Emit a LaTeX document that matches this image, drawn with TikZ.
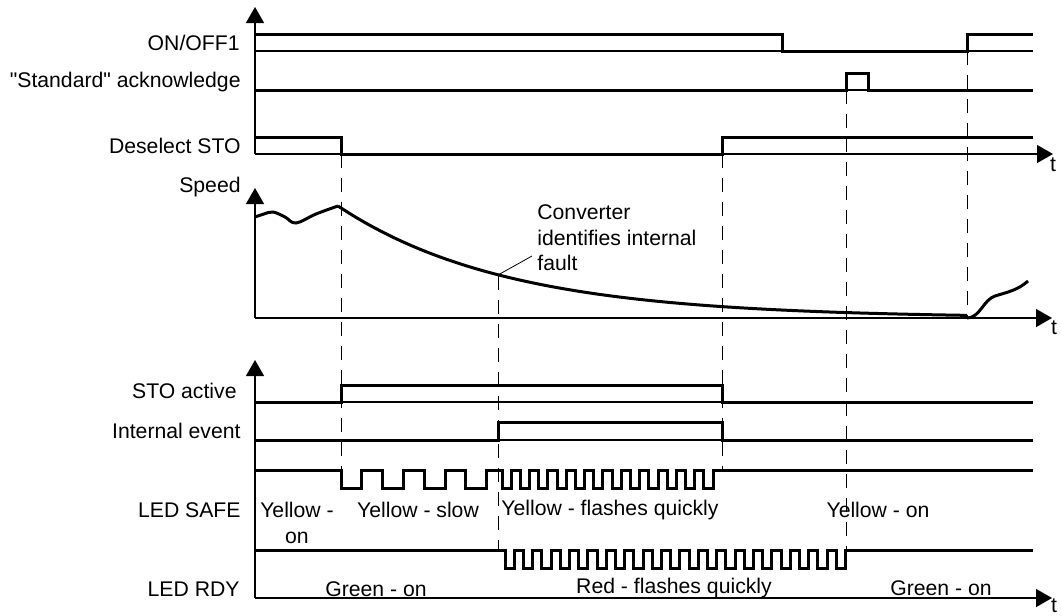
\documentclass[tikz,border=0pt]{standalone}
\usepackage{fontspec}
\setmainfont{Liberation Sans}
\usetikzlibrary{arrows.meta}

\begin{document}
\begin{tikzpicture}[>={Triangle[length=8pt,width=9pt]},x=0.5pt,y=-0.5pt,
    font=\fontsize{10.6}{12.7}\selectfont,
    sig/.style={line width=1.5pt},
    base/.style={line width=0.6pt},
    axis/.style={line width=0.7pt,->},
    guide/.style={line width=0.5pt,dash pattern=on 7pt off 5pt},
    lbl/.style={anchor=east,inner sep=0pt}]
    \useasboundingbox (0,0) rectangle (1061,616);

    % time marks
    \draw [guide] (341,154) -- (341,470);
    \draw [guide] (498,276) -- (498,550);
    \draw [guide] (722,154) -- (722,470);
    \draw [guide] (846,90) -- (846,550);
    \draw [guide] (967,51) -- (967,318);

    % top group
    \draw [axis] (255,154) -- (255,7);
    \draw [axis] (255,154) -- (1053,154);
    \node [inner sep=0pt] (t1) at (1053,165) {t};
    \node [lbl] (onoff) at (240,43) {ON/OFF1};
    \node [lbl] (ack) at (241,82) {\textquotedbl Standard\textquotedbl\ acknowledge};
    \node [lbl] (desto) at (241,146) {Deselect STO};
    \draw [base] (255,51) -- (1033,51);
    \draw [sig] (255,34) -- (782,34) -- (782,51) -- (967,51) -- (967,34) -- (1033,34);
    \draw [base] (255,90) -- (1033,90);
    \draw [sig] (255,90) -- (846,90) -- (846,73) -- (868,73) -- (868,90) -- (1033,90);
    \draw [sig] (255,137) -- (341,137) -- (341,154) -- (722,154) -- (722,137) -- (1033,137);

    % speed
    \draw [axis] (255,318) -- (255,188);
    \draw [axis] (255,318) -- (1052,318);
    \node [inner sep=0pt] (t2) at (1054,328) {t};
    \node [lbl] (speed) at (241,187) {Speed};
    \draw [sig] plot [smooth,tension=0.6] coordinates
        {(255,217) (264,214) (273,212) (285,217) (296,223) (316,214) (338,206)};
    \draw [sig,domain=338:967,samples=70] plot (\x,{318-112*exp(-(\x-338)/168)});
    \draw [sig] (967,318) .. controls (980,318) and (983,300) .. (995,296)
        .. controls (1008,292) and (1018,290) .. (1028,281);
    \coordinate (flt) at (498,275);
    \coordinate (lead) at (532,256);
    \node [align=left,anchor=west,inner sep=0pt] (fault) at (537,238)
        {Converter\\identifies internal\\fault};
    \draw [line width=0.4pt] (flt) -- (lead);

    % bottom group
    \draw [axis] (255,598) -- (255,360);
    \draw [axis] (255,598) -- (1052,598);
    \node [inner sep=0pt] (t3) at (1054,606) {t};
    \node [lbl] (stoact) at (237,391) {STO active};
    \node [lbl] (intev) at (241,431) {Internal event};
    \node [lbl] (safe) at (241,510) {LED SAFE};
    \node [lbl] (rdy) at (240,589) {LED RDY};
    \draw [base] (255,402) -- (1033,402);
    \draw [sig] (255,402) -- (341,402) -- (341,385) -- (722,385) -- (722,402) -- (1033,402);
    \draw [base] (255,440) -- (1033,440);
    \draw [sig] (255,440) -- (498,440) -- (498,422) -- (722,422) -- (722,440) -- (1033,440);

    % LED SAFE
    \draw [sig] (255,470) -- (341,470)
        foreach \k in {1,2,3} {-- ++(0,18) -- ++(20.8,0) -- ++(0,-18) -- ++(20.8,0)}
        -- ++(0,18) -- ++(20.8,0) -- ++(0,-18) -- (502,470)
        foreach \k in {1,...,12} {-- ++(0,18) -- ++(9.18,0) -- ++(0,-18) -- ++(9.18,0)}
        -- (1033,470);
    % LED RDY
    \draw [sig] (255,550) -- (505,550)
        foreach \k in {1,...,19} {-- ++(0,18) -- ++(9.2,0) -- ++(0,-18) -- ++(9.2,0)}
        -- (1033,550);

    \node [align=center] (ylon) at (297,523) {Yellow -\\on};
    \node (ylslow) at (418,510) {Yellow - slow};
    \node (ylfast) at (610,510) {Yellow - flashes quickly};
    \node (ylon2) at (878,510) {Yellow - on};
    \node (gron) at (376,589) {Green - on};
    \node (rdfast) at (674,588) {Red - flashes quickly};
    \node (gron2) at (941,588) {Green - on};
\end{tikzpicture}
\end{document}
